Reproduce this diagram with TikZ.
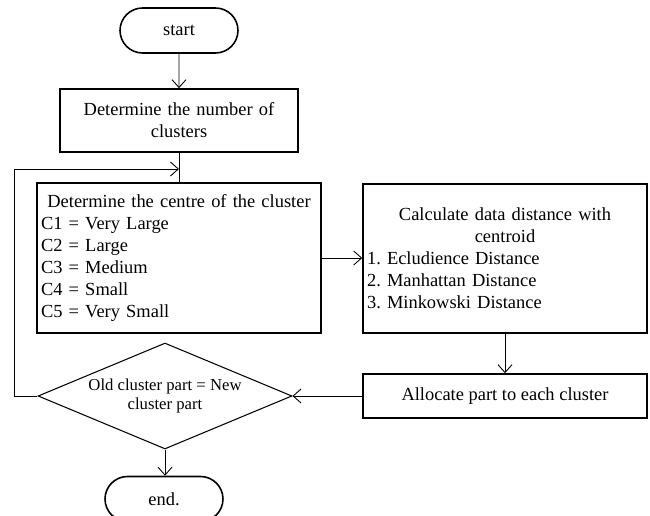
\documentclass[tikz,border=0pt]{standalone}
\usepackage{fontspec}
\setmainfont{Liberation Serif}
\usetikzlibrary{shapes.geometric,shapes.misc,arrows.meta}

\begin{document}
\begin{tikzpicture}[x=0.02cm,y=-0.02cm,
    font=\fontsize{10.5}{12.5}\selectfont\frenchspacing,
    terminal/.style={draw,line width=0.9pt,rounded rectangle,minimum width=2.36cm,minimum height=0.9cm,inner sep=0pt},
    process/.style={draw,line width=0.9pt,rectangle,inner xsep=0.08cm,inner ysep=0pt},
    decision/.style={draw,line width=0.6pt,diamond,aspect=2.4,minimum width=5.08cm,minimum height=2.12cm,inner sep=0pt,align=center,font=\fontsize{9.5}{11}\selectfont},
    flow/.style={line width=0.5pt,-{Straight Barb[length=4.5pt,width=8pt]}},
    link/.style={line width=0.5pt}]
    % -----------------------------------------------------
    % 1) Marco de la figura
    % -----------------------------------------------------
    \useasboundingbox (0,0) rectangle (650,516);
    \clip (0,0) rectangle (650,516);

    % -----------------------------------------------------
    % 2) Inicio y numero de clusters
    % -----------------------------------------------------
    \node[terminal] (start) at (179,30.5) {start};
    \node[process,text width=4.6cm,align=center,minimum height=1.26cm] (clusters) at (179,120.5)
        {Determine the number of\\clusters};

    % -----------------------------------------------------
    % 3) Centros y distancias
    % -----------------------------------------------------
    \node[process,text width=5.52cm,align=left,minimum height=3cm] (centre) at (179,258)
        {\makebox[5.52cm][c]{Determine the centre of the cluster}\\
         C1 = Very Large\\C2 = Large\\C3 = Medium\\C4 = Small\\C5 = Very Small};
    \node[process,text width=5.52cm,align=left,minimum height=2.98cm] (distance) at (505,258.5)
        {\makebox[5.52cm][c]{Calculate data distance with}\\
         \makebox[5.52cm][c]{centroid}\\
         1. Ecludience Distance\\2. Manhattan Distance\\3. Minkowski Distance};

    % -----------------------------------------------------
    % 4) Asignacion, comparacion y fin
    % -----------------------------------------------------
    \node[process,minimum width=5.68cm,minimum height=0.88cm] (allocate) at (505,396)
        {Allocate part to each cluster};
    \node[decision] (compare) at (165,396) {Old cluster part = New\\cluster part};
    \node[terminal] (end) at (164,499) {end.};
    \coordinate (merge) at (179,169);

    % Flechas
    \draw[flow] (start) -- (clusters);
    \draw[link] (clusters) -- (centre);
    \draw[flow] (centre.east) -- (centre.east -| distance.west);
    \draw[flow] (distance.south) -- (distance.south |- allocate.north);
    \draw[flow] (allocate.west) -- (allocate.west -| compare.east);
    \draw[flow] (compare.west) -- ++(-23,0) |- (merge);
    \draw[flow] (compare.south) -- (compare.south |- end.north);

\end{tikzpicture}
\end{document}
